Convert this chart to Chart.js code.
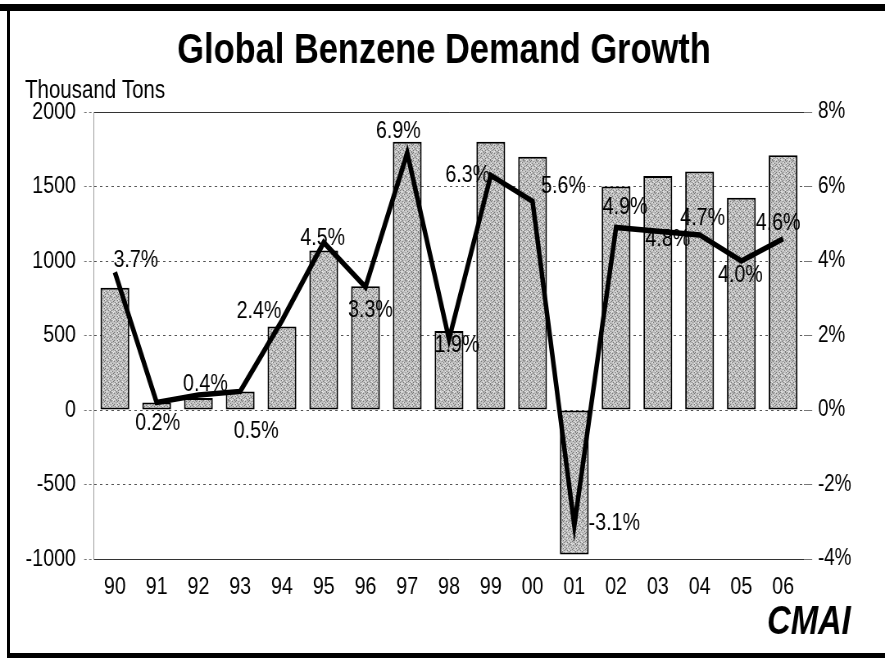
<!DOCTYPE html>
<html><head><meta charset="utf-8">
<script src="https://cdn.jsdelivr.net/npm/chart.js@4.4.1/dist/chart.umd.min.js"></script>
<style>
html,body{margin:0;padding:0;background:#fff;}
#wrap{position:relative;width:885px;height:658px;overflow:hidden;background:#fff;}
#c{position:absolute;left:0;top:0;transform-origin:0 0;}
.frame{position:absolute;background:#000;}
</style></head><body>
<div id="wrap">
<canvas id="c" width="1080" height="658"></canvas>
<div class="frame" style="left:0;top:4px;width:885px;height:7px"></div>
<div class="frame" style="left:7px;top:4px;width:3px;height:654px"></div>
<div class="frame" style="left:7px;top:653px;width:878px;height:5px"></div>
</div>
<script>
// ---- data ----
const years = ['90','91','92','93','94','95','96','97','98','99','00','01','02','03','04','05','06'];
const demandGrowth = [820, 50, 80, 125, 560, 1070, 830, 1800, 530, 1800, 1700, -970, 1500, 1570, 1600, 1425, 1710];
const growthRate = [3.7, 0.2, 0.4, 0.5, 2.4, 4.5, 3.3, 6.9, 1.9, 6.3, 5.6, -3.1, 4.9, 4.8, 4.7, 4.0, 4.6];
const leftTicks = [2000, 1500, 1000, 500, 0, -500, -1000];
const rightTicks = [8, 6, 4, 2, 0, -2, -4];
const titleText = 'Global Benzene Demand Growth';
const unitText = 'Thousand Tons';
const logoText = 'CMAI';

// ---- label placement in page pixels (style only) ----
const labelOffsets = [[21,-12],[1,21],[7,-11],[16,40],[-23,-9],[-1,-4],[5,23],[-9,-22],[8,6],[-23,0],[31,-15],[40,-2],[9,-20],[10,8],[3,-17],[-1,14],[-5,-15]];

// The chart is drawn on a wider canvas and squeezed horizontally, so
// Arial-metric text looks like the narrow face of the original.
const S = 885 / 1080;
document.getElementById('c').style.transform = 'scaleX(' + S + ')';
const FONT = "'Liberation Sans', Arial, sans-serif";

function makePattern(){
  const p = document.createElement('canvas');
  p.width = 8; p.height = 8;
  const g = p.getContext('2d');
  g.fillStyle = '#c0c0c0'; g.fillRect(0,0,8,8);
  g.fillStyle = '#777777';
  [[0,0],[3,1],[6,0],[1,3],[5,2],[7,4],[2,5],[4,6],[6,7],[0,6],[3,4],[7,1]].forEach(([x,y])=>g.fillRect(x,y,1,1));
  g.fillStyle = '#eaeaea';
  [[2,0],[5,5],[1,7],[7,3],[4,2],[0,4],[6,6],[3,7]].forEach(([x,y])=>g.fillRect(x,y,1,1));
  return g.createPattern(p,'repeat');
}
const ctx = document.getElementById('c').getContext('2d');
const pattern = makePattern();

const decor = {
  id: 'decor',
  afterDatasetsDraw(chart){
    const c = chart.ctx;
    const meta = chart.getDatasetMeta(0);
    c.save();
    c.fillStyle = '#000';
    c.font = '24px ' + FONT;
    c.textAlign = 'center';
    c.textBaseline = 'middle';
    meta.data.forEach((pt, i) => {
      const v = growthRate[i];
      const o = labelOffsets[i];
      c.fillText(v.toFixed(1) + '%', pt.x + o[0] / S, pt.y + o[1]);
    });
    c.restore();
  },
  afterDraw(chart){
    const c = chart.ctx;
    c.save();
    c.fillStyle = '#000';
    c.textBaseline = 'alphabetic';
    c.textAlign = 'center';
    c.font = 'bold 42px ' + FONT;
    c.fillText(titleText, 444 / S, 63);
    c.textAlign = 'left';
    c.font = '25px ' + FONT;
    c.fillText(unitText, 25 / S, 98);
    c.font = 'italic bold 40px ' + FONT;
    c.fillText(logoText, 767 / S, 634);
    c.restore();
  }
};

const edgeValues = [leftTicks[0], leftTicks[leftTicks.length - 1]];

new Chart(ctx, {
  data: {
    labels: years,
    datasets: [
      {
        type: 'line',
        label: 'Growth %',
        data: growthRate,
        yAxisID: 'y2',
        borderColor: '#000',
        borderWidth: 5.5,
        pointRadius: 0,
        tension: 0,
        order: 0
      },
      {
        type: 'bar',
        label: 'Demand Growth',
        data: demandGrowth,
        yAxisID: 'y',
        backgroundColor: pattern,
        borderColor: '#000',
        borderWidth: 2,
        borderSkipped: false,
        barPercentage: 0.69,
        categoryPercentage: 1,
        order: 1
      }
    ]
  },
  options: {
    responsive: false,
    animation: false,
    devicePixelRatio: 1,
    layout: { padding: { top: 112, left: 0, right: 0, bottom: 0 } },
    plugins: { legend: { display: false }, tooltip: { enabled: false }, title: { display: false } },
    scales: {
      x: {
        type: 'category',
        offset: true,
        grid: { display: false },
        border: { display: false },
        ticks: { color: '#000', font: { family: FONT, size: 24 }, padding: 6, maxRotation: 0, autoSkip: false },
        afterFit(s){ s.height = 99; }
      },
      y: {
        position: 'left',
        min: -1000, max: 2000,
        afterBuildTicks(s){ s.ticks = leftTicks.map(v => ({ value: v })); },
        ticks: { color: '#000', font: { family: FONT, size: 24 }, padding: 10, callback: v => String(v) },
        grid: {
          color: c => (c.tick && edgeValues.includes(c.tick.value)) ? '#333' : '#555',
          lineWidth: 1, drawTicks: true, tickLength: 12, tickColor: '#777', tickBorderDash: [3,3]
        },
        border: {
          display: true, color: '#999',
          dash: c => (c.tick && edgeValues.includes(c.tick.value)) ? [] : [3,4]
        },
        afterFit(s){ s.width = 94 / S; }
      },
      y2: {
        position: 'right',
        min: -4, max: 8,
        afterBuildTicks(s){ s.ticks = rightTicks.map(v => ({ value: v })); },
        ticks: { color: '#000', font: { family: FONT, size: 23 }, padding: 7, callback: v => v + '%' },
        grid: { drawOnChartArea: false, drawTicks: true, tickLength: 10, tickColor: '#777' },
        border: { display: false },
        afterFit(s){ s.width = 81 / S; }
      }
    }
  },
  plugins: [decor]
});
</script>
</body></html>
